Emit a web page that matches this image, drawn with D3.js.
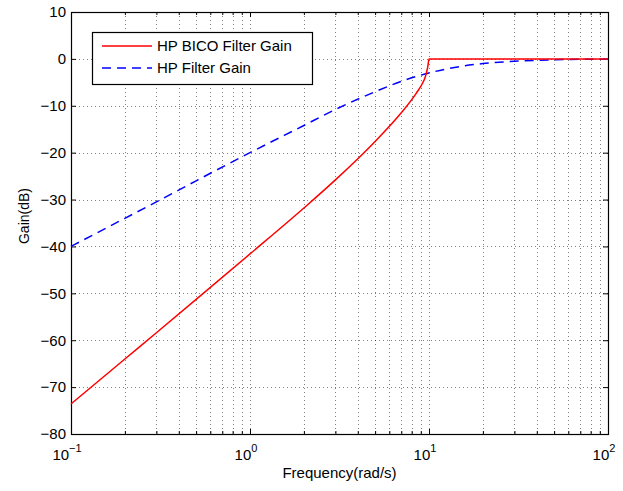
<!DOCTYPE html>
<html>
<head>
<meta charset="utf-8">
<script src="https://cdn.jsdelivr.net/npm/d3@7"></script>
<style>
  body { margin: 0; background: white; }
  svg { font-family: "Liberation Sans", Arial, sans-serif; }
</style>
</head>
<body>
<svg id="chart" width="623" height="491"></svg>
<script>
// values
var freqRed = [0.1, 0.2, 0.3, 0.5, 1, 2, 3, 5, 7, 8.5, 9.2, 9.5, 9.7, 9.85, 10, 100]
var gainRed = [-73.6, -64.0, -58.4, -51.3, -41.6, -31.8, -25.8, -17.6, -11.5, -7.3, -5.2, -4.0, -2.8, -1.6, 0, 0]
var freqBlue = [0.1, 0.2, 0.3, 0.5, 1, 2, 3, 5, 7, 10, 15, 20, 30, 50, 100]
var gainBlue = [-40, -34, -30.5, -26, -20, -14.2, -10.8, -7, -4.8, -3, -1.6, -1, -0.5, -0.2, -0.05]
var xMajor = [0.1, 1, 10, 100]
var xExp = ['\u22121', '0', '1', '2']
var yTicks = [-80, -70, -60, -50, -40, -30, -20, -10, 0, 10]
var seriesNames = ['HP BICO Filter Gain', 'HP Filter Gain']

var svg = d3.select('#chart')
var pLeft = 71, pRight = 608, pTop = 12, pBottom = 434

var x = d3.scaleLog().domain([0.1, 100]).range([pLeft, pRight])
var y = d3.scaleLinear().domain([-80, 10]).range([pBottom, pTop])

// all log ticks (major + minor)
var xAll = []
xMajor.forEach(function(m, i) {
    if (i == xMajor.length - 1) { xAll.push(m); return }
    for (var k = 1; k < 10; k++) xAll.push(+(m * k).toPrecision(3))
})
var xMinor = xAll.filter(function(v) { return xMajor.indexOf(v) < 0 })

// grid
var grid = svg.append('g')
grid.selectAll('.vg').data(xAll.slice(1, -1)).enter().append('line')
    .attr('x1', function(d) { return Math.round(x(d)) + 0.5 })
    .attr('x2', function(d) { return Math.round(x(d)) + 0.5 })
    .attr('y1', pTop).attr('y2', pBottom)
grid.selectAll('.hg').data(yTicks.slice(1, -1)).enter().append('line')
    .attr('y1', function(d) { return Math.round(y(d)) + 0.5 })
    .attr('y2', function(d) { return Math.round(y(d)) + 0.5 })
    .attr('x1', pLeft).attr('x2', pRight)
grid.selectAll('line')
    .style('stroke', '#000')
    .style('stroke-opacity', 0.5)
    .style('stroke-width', 1)
    .style('stroke-dasharray', '1,3')

// ticks, inward on all four sides
function tickStyle(g) {
    g.select('.domain').remove()
    g.selectAll('line').style('stroke', '#000')
}
svg.append('g').attr('transform', 'translate(0,' + pBottom + ')')
    .call(d3.axisBottom(x).tickValues(xMajor).tickSize(-5).tickFormat(''))
    .call(tickStyle)
svg.append('g').attr('transform', 'translate(0,' + pBottom + ')')
    .call(d3.axisBottom(x).tickValues(xMinor).tickSize(-3).tickFormat(''))
    .call(tickStyle)
svg.append('g').attr('transform', 'translate(0,' + pTop + ')')
    .call(d3.axisTop(x).tickValues(xMajor).tickSize(-5).tickFormat(''))
    .call(tickStyle)
svg.append('g').attr('transform', 'translate(0,' + pTop + ')')
    .call(d3.axisTop(x).tickValues(xMinor).tickSize(-3).tickFormat(''))
    .call(tickStyle)
svg.append('g').attr('transform', 'translate(' + pLeft + ',0)')
    .call(d3.axisLeft(y).tickValues(yTicks).tickSize(-5).tickPadding(5))
    .call(tickStyle)
    .selectAll('text').style('font-size', '15px').attr('fill', '#000')
svg.append('g').attr('transform', 'translate(' + pRight + ',0)')
    .call(d3.axisRight(y).tickValues(yTicks).tickSize(-5).tickFormat(''))
    .call(tickStyle)
svg.selectAll('.tick text').style('font-family', '"Liberation Sans", Arial, sans-serif')

// x tick labels 10^n
var xl = svg.append('g')
xMajor.forEach(function(v, i) {
    var t = xl.append('text')
        .attr('x', x(v) - 4)
        .attr('y', 460)
        .attr('text-anchor', 'middle')
        .style('font-size', '15px')
    t.append('tspan').text('10')
    t.append('tspan').attr('dy', -8).style('font-size', '11px').text(xExp[i])
})

// box
svg.append('rect')
    .attr('x', pLeft + 0.5).attr('y', pTop + 0.5)
    .attr('width', pRight - pLeft).attr('height', pBottom - pTop)
    .style('fill', 'none').style('stroke', '#000').style('stroke-width', 1.2)

// curves
var line = d3.line()
    .x(function(d) { return x(d[0]) })
    .y(function(d) { return y(d[1]) })
    .curve(d3.curveMonotoneX)

svg.append('path')
    .datum(d3.zip(freqBlue, gainBlue))
    .attr('d', line)
    .style('fill', 'none').style('stroke', '#0000ff').style('stroke-width', 1.5)
    .style('stroke-dasharray', '9,6')
svg.append('path')
    .datum(d3.zip(freqRed, gainRed))
    .attr('d', line)
    .style('fill', 'none').style('stroke', '#ff0000').style('stroke-width', 1.5)

// axis labels
svg.append('text')
    .attr('x', (pLeft + pRight) / 2).attr('y', 478)
    .attr('text-anchor', 'middle')
    .style('font-size', '15px')
    .text('Frequency(rad/s)')
svg.append('text')
    .attr('transform', 'translate(29,216) rotate(-90)')
    .attr('text-anchor', 'middle')
    .style('font-size', '14px')
    .text('Gain(dB)')

// legend
var legend = svg.append('g')
legend.append('rect')
    .attr('x', 92.5).attr('y', 32.5).attr('width', 220).attr('height', 52)
    .style('fill', 'white').style('stroke', '#000').style('stroke-width', 1.2)
var colors = ['#ff0000', '#0000ff']
var dashes = [null, '9,6']
seriesNames.forEach(function(name, i) {
    var ly = 46 + i * 22
    legend.append('line')
        .attr('x1', 102).attr('x2', 152).attr('y1', ly).attr('y2', ly)
        .style('stroke', colors[i]).style('stroke-width', 1.5)
        .style('stroke-dasharray', dashes[i])
    legend.append('text')
        .attr('x', 157).attr('y', ly + 5)
        .style('font-size', '15px')
        .text(name)
})
</script>
</body>
</html>
